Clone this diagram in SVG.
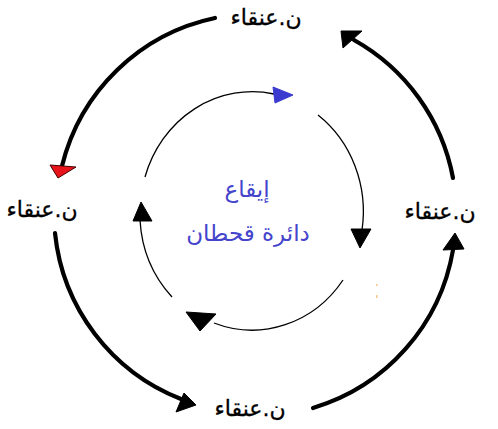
<svg xmlns="http://www.w3.org/2000/svg" width="498" height="429" viewBox="0 0 498 429">
<style>
.lbl{font-family:"DejaVu Sans",sans-serif;font-size:22px;fill:#000;stroke:#000;stroke-width:0.3;text-anchor:middle;direction:rtl}
.ctr{font-family:"DejaVu Serif","DejaVu Sans",serif;font-size:23px;fill:#4444cc;text-anchor:middle;direction:rtl}
.outer{fill:none;stroke:#000;stroke-width:4.2;stroke-linecap:round}
.inner{fill:none;stroke:#000;stroke-width:1.3}
.head{fill:#000;stroke:#000;stroke-width:1;stroke-linejoin:round}
</style>
<rect width="498" height="429" fill="#fff"/>
<g id="connectors">
  <g id="outer-arcs">
    <path class="outer" d="M453 178 A200 200 0 0 0 354 40"/>
    <polygon class="head" points="341,31 362,31 343,48"/>
    <path class="outer" d="M215 18 A200 200 0 0 0 62 166"/>
    <polygon points="50,165 76,167 58,178" fill="#e8141c" stroke="#400" stroke-width="1" stroke-linejoin="round"/>
    <path class="outer" d="M55 233 A200 200 0 0 0 181 399"/>
    <polygon class="head" points="184,393 196,405 176,412"/>
    <path class="outer" d="M313 408 A200 200 0 0 0 453 250"/>
    <polygon class="head" points="455,233 443,250 464,249"/>
  </g>
  <g id="inner-arcs">
    <path class="inner" d="M145 177 A112 120 0 0 1 274 94"/>
    <polygon points="273,87 293,95 275,103" fill="#3b3bd0" stroke="#3b3bd0" stroke-width="1"/>
    <path class="inner" d="M318 115 A112 120 0 0 1 362 230"/>
    <polygon class="head" points="351,229 371,229 360,248"/>
    <path class="inner" d="M343 280 A112 120 0 0 1 214 323"/>
    <polygon class="head" points="186,312 216,314 200,331"/>
    <path class="inner" d="M172 297 A112 120 0 0 1 140 220"/>
    <polygon class="head" points="133,221 152,221 141,202"/>
  </g>
</g>
<g id="node-top"><text class="lbl" x="266" y="25">ن.عنقاء</text></g>
<g id="node-left"><text class="lbl" x="42" y="217">ن.عنقاء</text></g>
<g id="node-right"><text class="lbl" x="440" y="219">ن.عنقاء</text></g>
<g id="node-bottom"><text class="lbl" x="250" y="416">ن.عنقاء</text></g>
<g id="node-center">
  <text class="ctr" x="247" y="197" font-size="25">إيقاع</text>
  <text class="ctr" x="248" y="241">دائرة قحطان</text>
</g>
<g id="specks" fill="#f0a040" opacity="0.6">
  <rect x="376" y="284" width="1.5" height="2"/>
  <rect x="376" y="295" width="1.5" height="3"/>
</g>
</svg>
